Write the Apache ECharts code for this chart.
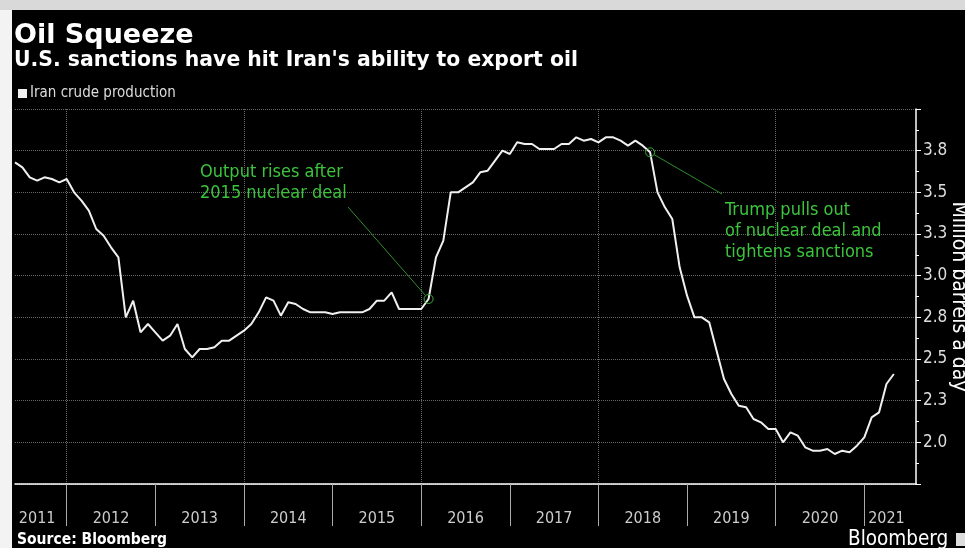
<!DOCTYPE html>
<html>
<head>
<meta charset="utf-8">
<script src="https://cdn.jsdelivr.net/npm/echarts@6/dist/echarts.min.js"></script>
<style>
  html, body { margin: 0; padding: 0; background: #000; }
  #chart { width: 965px; height: 548px; }
</style>
</head>
<body>
<div id="chart"></div>
<script>
// 伊朗原油产量 月度数据 (百万桶/日), 2011-06 起
const startYear = 2011
const startMonth = 6
const monthCount = 123 // 到 2021-08, 轴的右端

const production = [
  3.68, 3.65, 3.59, 3.57, 3.59, 3.58, 3.56,             // 2011 6-12
  3.58, 3.50, 3.45, 3.39, 3.28, 3.24, 3.17, 3.11, 2.75, 2.85, 2.66, 2.71, // 2012
  2.66, 2.61, 2.64, 2.71, 2.56, 2.51, 2.56, 2.56, 2.57, 2.61, 2.61, 2.64, // 2013
  2.67, 2.71, 2.78, 2.87, 2.85, 2.76, 2.84, 2.83, 2.80, 2.78, 2.78, 2.78, // 2014
  2.77, 2.78, 2.78, 2.78, 2.78, 2.80, 2.85, 2.85, 2.90, 2.80, 2.80, 2.80, // 2015
  2.80, 2.86, 3.11, 3.21, 3.50, 3.50, 3.53, 3.56, 3.62, 3.63, 3.69, 3.75, // 2016
  3.73, 3.80, 3.79, 3.79, 3.76, 3.76, 3.76, 3.79, 3.79, 3.83, 3.81, 3.82, // 2017
  3.80, 3.83, 3.83, 3.81, 3.78, 3.81, 3.78, 3.74, 3.50, 3.41, 3.34, 3.05, // 2018
  2.88, 2.75, 2.75, 2.72, 2.55, 2.38, 2.29, 2.22, 2.21, 2.14, 2.12, 2.08, // 2019
  2.08, 2.00, 2.06, 2.04, 1.97, 1.95, 1.95, 1.96, 1.93, 1.95, 1.94, 1.98, // 2020
  2.03, 2.15, 2.18, 2.35, 2.41                          // 2021 1-5
]

// y 轴刻度和显示的标签 (原图四舍五入到一位小数)
const yTicks = [2.0, 2.25, 2.5, 2.75, 3.0, 3.25, 3.5, 3.75]
const yTickLabels = ['2.0', '2.3', '2.5', '2.8', '3.0', '3.3', '3.5', '3.8']

// 注释
const notes = [
  { index: 56, lines: ['Output rises after', '2015 nuclear deal'], x: 200, y: 162, end: [348, 207] },
  { index: 86, lines: ['Trump pulls out', 'of nuclear deal and', 'tightens sanctions'], x: 725, y: 200, end: [722, 194] }
]

// 月份类目
const months = []
for (let i = 0; i < monthCount; i++) {
  const m = startMonth - 1 + i
  const y = startYear + Math.floor(m / 12)
  const mm = (m % 12) + 1
  months.push(y + '-' + (mm < 10 ? '0' + mm : mm))
}

const font = "'DejaVu Sans Condensed', 'Liberation Sans Narrow', sans-serif"
const green = '#3cc43c'

const chartDom = document.getElementById('chart')
const myChart = echarts.init(chartDom)

const option = {
  backgroundColor: '#000',
  animation: false,
  title: [
    {
      text: 'Oil Squeeze', left: 14, top: 22, padding: 0,
      textStyle: { color: '#fff', fontSize: 27, fontWeight: 'bold', fontFamily: 'DejaVu Sans' }
    },
    {
      text: "U.S. sanctions have hit Iran's ability to export oil", left: 14, top: 51, padding: 0,
      textStyle: { color: '#fff', fontSize: 20.4, fontWeight: 'bold', fontFamily: 'DejaVu Sans' }
    }
  ],
  legend: {
    left: 18, top: 86, padding: 0,
    icon: 'rect', itemWidth: 9, itemHeight: 9, itemGap: 4,
    textStyle: { color: '#ddd', fontSize: 15, fontFamily: font, padding: [0, 0, 0, -2] },
    data: ['Iran crude production']
  },
  grid: { left: 15, right: 49, top: 109, bottom: 64, containLabel: false, outerBoundsMode: 'none' },
  xAxis: {
    type: 'category',
    data: months,
    boundaryGap: false,
    axisLine: { show: true, lineStyle: { color: '#fff', width: 1.5 } },
    axisTick: {
      show: true, length: 42,
      interval: (i, v) => v.slice(5) === '01',
      lineStyle: { color: '#aaa' }
    },
    axisLabel: {
      color: '#ccc', fontSize: 16, fontFamily: font, margin: 27,
      interval: (i, v) => {
        const y = +v.slice(0, 4)
        const mm = v.slice(5)
        if (y === 2011) return mm === '09'
        if (y === 2021) return mm === '04'
        return mm === '07'
      },
      formatter: v => v.slice(0, 4)
    },
    splitLine: {
      show: true,
      interval: (i, v) => v.slice(5) === '01' && (+v.slice(0, 4)) % 2 === 0,
      lineStyle: { color: '#666', type: 'dotted' }
    }
  },
  yAxis: {
    type: 'value',
    position: 'right',
    min: 1.75, max: 4.0, interval: 0.25,
    name: 'Million barrels a day',
    nameLocation: 'middle',
    nameRotate: -90,
    nameGap: 32,
    nameMoveOverlap: false,
    nameTextStyle: { color: '#fff', fontSize: 21, fontFamily: font },
    axisLine: { show: true, lineStyle: { color: '#fff', width: 1.5 } },
    axisTick: { show: true, length: 5, lineStyle: { color: '#fff' } },
    minorTick: { show: true, splitNumber: 2, length: 3, lineStyle: { color: '#fff' } },
    axisLabel: {
      color: '#ddd', fontSize: 17, fontFamily: font, margin: 7,
      formatter: v => {
        const k = yTicks.findIndex(t => Math.abs(t - v) < 1e-6)
        return k >= 0 ? yTickLabels[k] : ''
      }
    },
    splitLine: { show: true, lineStyle: { color: '#666', type: 'dotted' } }
  },
  series: [
    {
      name: 'Iran crude production',
      type: 'line',
      data: production,
      symbol: 'none',
      color: '#f0f0f0',
      lineStyle: { color: '#f0f0f0', width: 2 },
      markPoint: {
        symbol: 'circle',
        symbolSize: 9,
        label: { show: false },
        itemStyle: { color: 'rgba(0,0,0,0)', borderColor: '#3aa83a', borderWidth: 1 },
        data: notes.map(n => ({ coord: [n.index, production[n.index]] }))
      }
    }
  ]
}

myChart.setOption(option)

// 注释文字 + 引线 (引线一端接数据点)
const graphics = [
  // 左侧白边 和 顶部灰条
  { type: 'rect', shape: { x: 0, y: 0, width: 12, height: 548 }, style: { fill: '#f3f3f3' }, z: 100 },
  { type: 'rect', shape: { x: 0, y: 0, width: 965, height: 10 }, style: { fill: '#d9d9d9' }, z: 100 },
  {
    type: 'text', left: 17, top: 532, z: 100,
    style: { text: 'Source: Bloomberg', fill: '#fff', font: "bold 15.5px 'DejaVu Sans Condensed', sans-serif" }
  },
  {
    type: 'text', left: 848, top: 529, z: 100,
    style: { text: 'Bloomberg', fill: '#fff', font: "20.5px 'DejaVu Sans Condensed', sans-serif" }
  },
  // logo 右侧被裁掉的小图标
  { type: 'rect', shape: { x: 956, y: 533, width: 12, height: 13 }, style: { fill: '#ddd' }, z: 100 }
]
notes.forEach(n => {
  const p = myChart.convertToPixel({ seriesIndex: 0 }, [n.index, production[n.index]])
  const dx = n.end[0] - p[0], dy = n.end[1] - p[1]
  const len = Math.sqrt(dx * dx + dy * dy)
  graphics.push({
    type: 'line', z: 50,
    shape: { x1: p[0] + dx / len * 4.5, y1: p[1] + dy / len * 4.5, x2: n.end[0], y2: n.end[1] },
    style: { stroke: '#2f8f2f', lineWidth: 1 }
  })
  graphics.push({
    type: 'text', x: n.x, y: n.y, z: 50,
    style: { text: n.lines.join('\n'), fill: green, font: '18px ' + font, lineHeight: 21 }
  })
})
myChart.setOption({ graphic: graphics })
</script>
</body>
</html>
